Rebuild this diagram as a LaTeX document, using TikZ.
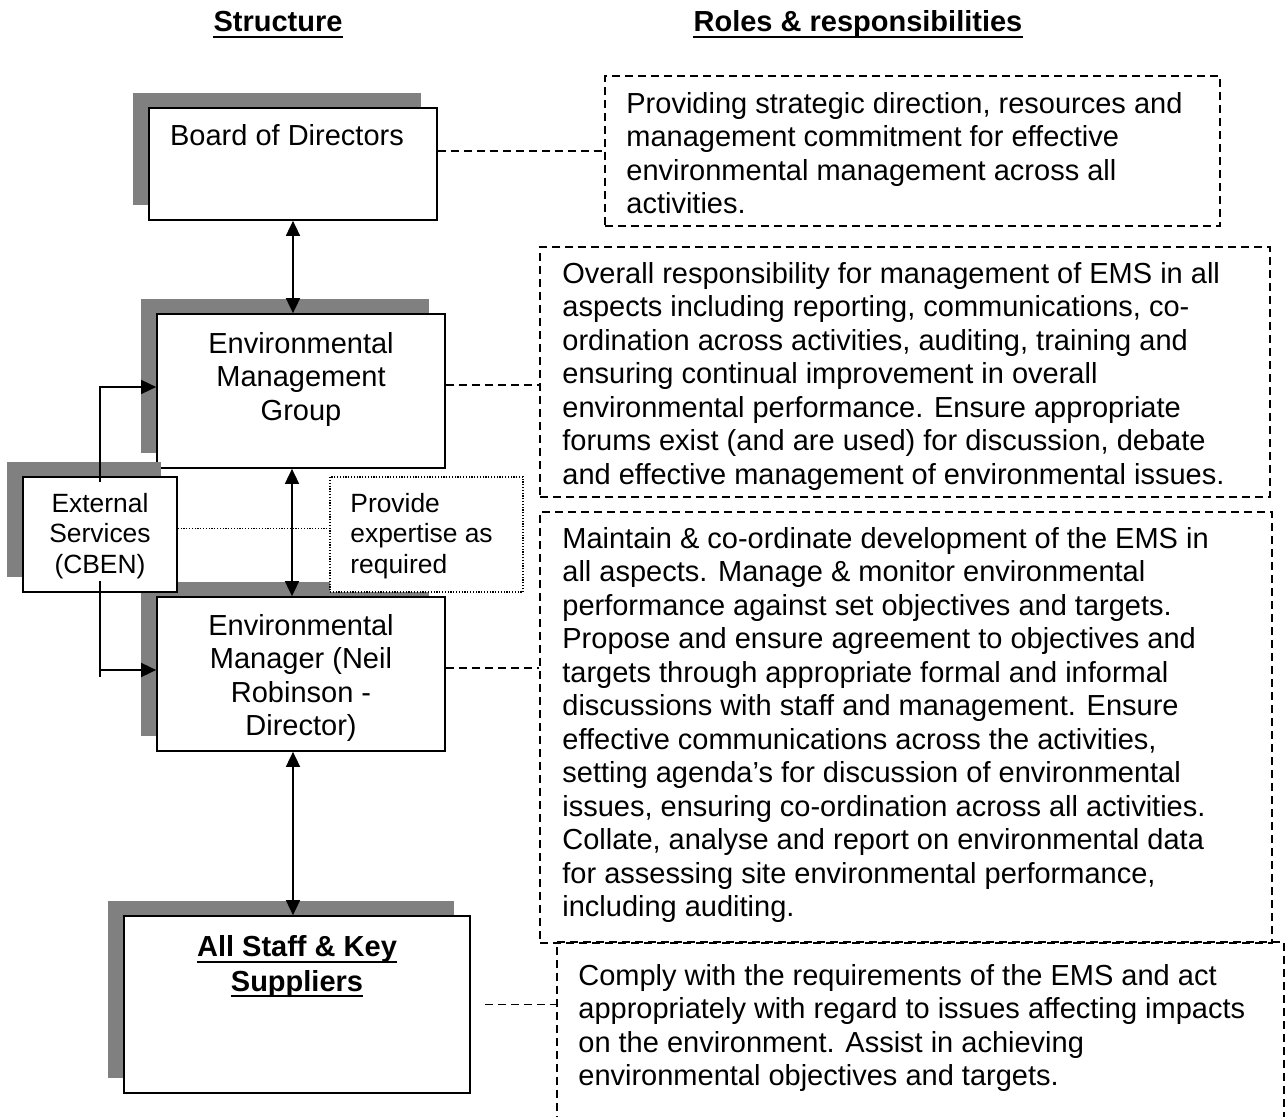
\documentclass[tikz,border=0pt]{standalone}
\usepackage{fontspec}
\setmainfont{Liberation Sans}[Ligatures=NoCommon]
\usetikzlibrary{arrows.meta,shadows}
\newcommand\msize{\fontsize{14.5pt}{16.75pt}\selectfont}
\newcommand\ssize{\fontsize{13.2pt}{15.25pt}\selectfont}
\definecolor{shadowgray}{HTML}{808080}
\begin{document}
\begin{tikzpicture}[x=0.5pt,y=-0.5pt,
  >={Triangle[length=7.5pt,width=7pt]},
  box/.style={draw=black, line width=0.85pt, fill=white, inner sep=0pt,
    general shadow={fill=shadowgray, shadow xshift=-8pt, shadow yshift=7.5pt}},
  role/.style={draw=black, line width=0.65pt, dash pattern=on 4pt off 2.5pt, inner sep=0pt},
  notebox/.style={draw=black, line width=0.6pt, dash pattern=on 0.6pt off 0.8pt, fill=white, inner sep=0pt},
  conn/.style={line width=0.8pt},
  dline/.style={line width=0.65pt, dash pattern=on 4pt off 2.5pt},
  dotline/.style={line width=0.6pt, dash pattern=on 0.6pt off 0.8pt},
  txt/.style={inner sep=0pt, font=\msize},
  stxt/.style={inner sep=0pt, font=\ssize},
  head/.style={inner sep=0pt, font=\msize\bfseries},
  uline/.style={line width=1pt}]
\useasboundingbox[fill=white] (0,0) rectangle (1287,1117);

% headers
\node[head, anchor=base] (hstruct) at (278,32) {Structure};
\node[head, anchor=base] (hroles) at (858,32) {Roles \& responsibilities};
\draw[uline] ([yshift=-2.5pt]hstruct.base west) -- ([yshift=-2.5pt]hstruct.base east);
\draw[uline] ([yshift=-2.5pt]hroles.base west) -- ([yshift=-2.5pt]hroles.base east);

% structure boxes
\node[box, minimum width=144pt, minimum height=56pt] (board) at (293,164) {};
\node[box, minimum width=144pt, minimum height=77pt] (emg) at (301,391) {};
\node[box, minimum width=144pt, minimum height=77pt] (emm) at (301,674) {};
\node[box, minimum width=173pt, minimum height=88.5pt] (staff) at (297,1004.5) {};
\node[box, minimum width=77pt, minimum height=57.5pt] (ext) at (100,534.5) {};
\node[notebox, minimum width=96.5pt, minimum height=57.5pt] (provide) at (426.5,534.5) {};

% role boxes
\node[role, minimum width=307.5pt, minimum height=75pt] (r1) at (912.5,151) {};
\node[role, minimum width=365pt, minimum height=125pt] (r2) at (905,372) {};
\node[role, minimum width=366pt, minimum height=215.5pt] (r3) at (906,727.5) {};
\node[role, minimum width=363.5pt, minimum height=109pt] (r4) at (920.5,1051) {};

% texts in structure boxes
\node[txt, anchor=base] (boardt) at (287,146) {Board of Directors};
\node[txt, anchor=north, align=center] (emgt) at (301,329.55)
  {\strut Environmental\\Management\\Group};
\node[txt, anchor=north, align=center] (emmt) at (301,611.55)
  {\strut Environmental\\Manager (Neil\\Robinson -\\Director)};
\node[head, anchor=base] (stafft1) at (297,957) {All Staff \& Key};
\node[head, anchor=base] (stafft2) at (297,991) {Suppliers};
\draw[uline] ([yshift=-2.5pt]stafft1.base west) -- ([yshift=-2.5pt]stafft1.base east);
\draw[uline] ([yshift=-2.5pt]stafft2.base west) -- ([yshift=-2.5pt]stafft2.base east);
\node[stxt, anchor=north, align=center] (extt) at (100,490.65)
  {\strut External\\Services\\(CBEN)};
\node[stxt, anchor=north west, align=left] (providet) at (350,490.65)
  {\strut Provide\\expertise as\\required};

% role texts
\node[txt, anchor=north west, align=left] (r1t) at (626,89.55)
  {\strut Providing strategic direction, resources and\\
   management commitment for effective\\
   environmental management across all\\
   activities.};
\node[txt, anchor=north west, align=left] (r2t) at (562,259.55)
  {\strut Overall responsibility for management of EMS in all\\
   aspects including reporting, communications, co-\\
   ordination across activities, auditing, training and\\
   ensuring continual improvement in overall\\
   environmental performance. Ensure appropriate\\
   forums exist (and are used) for discussion, debate\\
   and effective management of environmental issues.};
\node[txt, anchor=north west, align=left] (r3t) at (562,524.55)
  {\strut Maintain \& co-ordinate development of the EMS in\\
   all aspects. Manage \& monitor environmental\\
   performance against set objectives and targets.\\
   Propose and ensure agreement to objectives and\\
   targets through appropriate formal and informal\\
   discussions with staff and management. Ensure\\
   effective communications across the activities,\\
   setting agenda’s for discussion of environmental\\
   issues, ensuring co-ordination across all activities.\\
   Collate, analyse and report on environmental data\\
   for assessing site environmental performance,\\
   including auditing.};
\node[txt, anchor=north west, align=left] (r4t) at (578,961.55)
  {\strut Comply with the requirements of the EMS and act\\
   appropriately with regard to issues affecting impacts\\
   on the environment. Assist in achieving\\
   environmental objectives and targets.};

% vertical arrows
\draw[conn,<->] (board.south) -- (board.south |- emg.north);
\draw[conn,<->] ([xshift=-4.5pt]emg.south) -- ([xshift=-4.5pt]emm.north);
\draw[conn,<->] ([xshift=-4pt]emm.south) -- ([xshift=-4pt]emm.south |- staff.north);

% external services connectors
\draw[conn,->] ([yshift=-3pt]ext.north) |- ([yshift=2pt]emg.west);
\coordinate (extend) at (100,677);
\draw[conn,->] ([yshift=6pt]ext.south) |- ([yshift=2pt]emm.west);
\draw[conn] ([yshift=6pt]ext.south) -- (extend);
\draw[dotline] ([yshift=3pt]ext.east) -- ([yshift=3pt]provide.west);

% dashed links to roles
\draw[dline] (board.east |- r1.west) -- (r1.west);
\draw[dline] ([yshift=3pt]emg.east) -- ([yshift=3pt]emg.east -| r2.west);
\draw[dline] ([yshift=3pt]emm.east) -- ([yshift=3pt]emm.east -| r3.west);
\draw[dline] ([xshift=7pt]staff.east) -- (staff.east -| r4.west);
\end{tikzpicture}
\end{document}
